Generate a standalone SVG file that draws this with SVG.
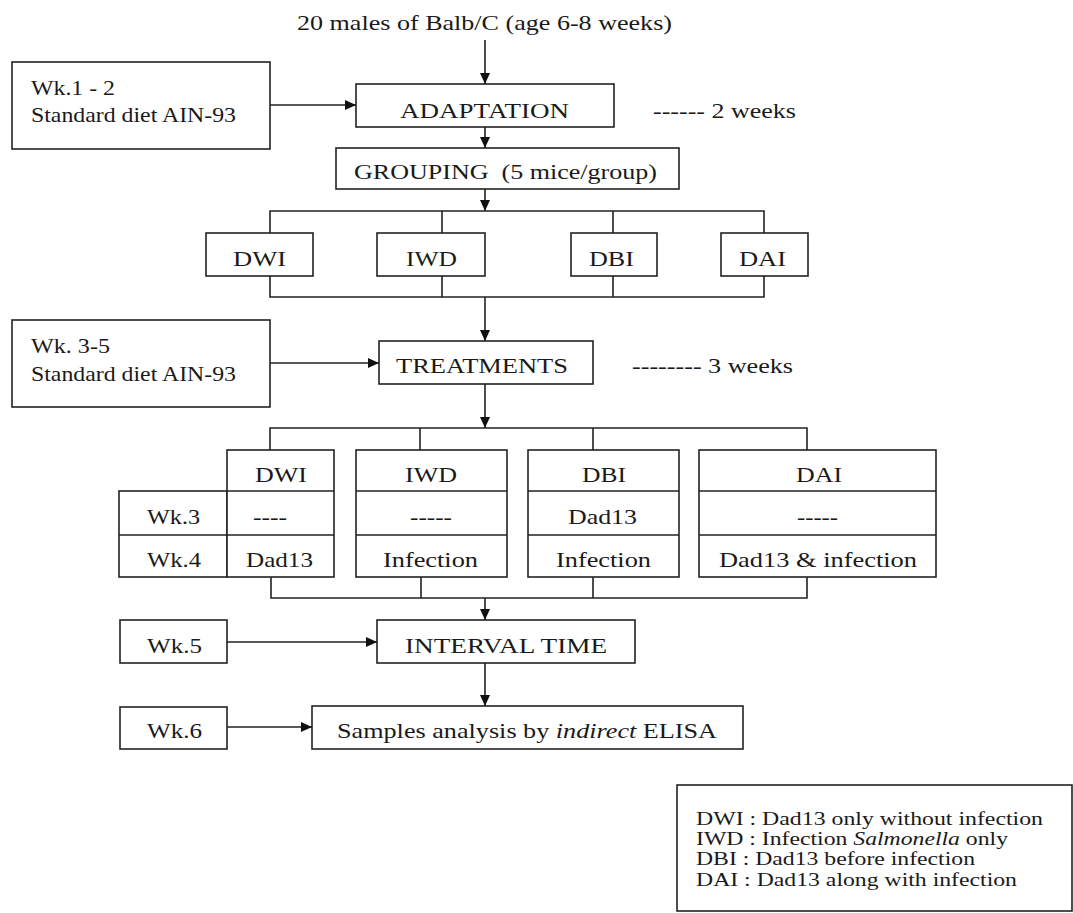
<svg xmlns="http://www.w3.org/2000/svg" width="1073" height="913" viewBox="0 0 1073 913">
<defs>
<style>
.b{fill:#fff;stroke:#222;stroke-width:1.6}
.l{fill:none;stroke:#222;stroke-width:1.6}
.t{font-family:"Liberation Serif","Times New Roman",serif;font-size:21px;fill:#1a1a1a;white-space:pre}
.s{font-family:"Liberation Serif","Times New Roman",serif;font-size:19px;fill:#1a1a1a;white-space:pre}
</style>
<marker id="ah" markerUnits="userSpaceOnUse" markerWidth="12" markerHeight="10" refX="11" refY="5" orient="auto">
<path d="M0,0 L11,5 L0,10 Z" fill="#111"/>
</marker>
</defs>
<rect width="1073" height="913" fill="#fff"/>

<g id="title"><text class="t" x="297" y="30" textLength="375" lengthAdjust="spacingAndGlyphs">20 males of Balb/C (age 6-8 weeks)</text></g>

<g id="wk12"><rect class="b" x="12" y="62" width="258" height="87"/>
<text class="t" x="31" y="95" textLength="84" lengthAdjust="spacingAndGlyphs">Wk.1 - 2</text>
<text class="t" x="31" y="122" textLength="205" lengthAdjust="spacingAndGlyphs">Standard diet AIN-93</text></g>

<g id="adaptation"><rect class="b" x="356" y="84" width="258" height="43"/>
<text class="t" x="400" y="118" textLength="169" lengthAdjust="spacingAndGlyphs">ADAPTATION</text></g>
<g id="weeks2"><text class="t" x="653" y="118" textLength="143" lengthAdjust="spacingAndGlyphs">------ 2 weeks</text></g>

<g id="grouping"><rect class="b" x="336" y="148" width="343" height="41"/>
<text class="t" x="354" y="179" textLength="303" lengthAdjust="spacingAndGlyphs">GROUPING  (5 mice/group)</text></g>

<g id="g-dwi"><rect class="b" x="206" y="233" width="107" height="43"/><text class="t" x="233" y="266" textLength="53" lengthAdjust="spacingAndGlyphs">DWI</text></g>
<g id="g-iwd"><rect class="b" x="377" y="233" width="108" height="43"/><text class="t" x="406" y="266" textLength="51" lengthAdjust="spacingAndGlyphs">IWD</text></g>
<g id="g-dbi"><rect class="b" x="571" y="233" width="86" height="43"/><text class="t" x="589" y="266" textLength="45" lengthAdjust="spacingAndGlyphs">DBI</text></g>
<g id="g-dai"><rect class="b" x="721" y="233" width="87" height="43"/><text class="t" x="739" y="266" textLength="47" lengthAdjust="spacingAndGlyphs">DAI</text></g>

<g id="wk35"><rect class="b" x="12" y="320" width="258" height="87"/>
<text class="t" x="31" y="353" textLength="79" lengthAdjust="spacingAndGlyphs">Wk. 3-5</text>
<text class="t" x="31" y="381" textLength="205" lengthAdjust="spacingAndGlyphs">Standard diet AIN-93</text></g>

<g id="treatments"><rect class="b" x="379" y="341" width="214" height="43"/>
<text class="t" x="396" y="373" textLength="172" lengthAdjust="spacingAndGlyphs">TREATMENTS</text></g>
<g id="weeks3"><text class="t" x="632" y="373" textLength="161" lengthAdjust="spacingAndGlyphs">-------- 3 weeks</text></g>

<g id="table">
<g id="t-rows"><rect class="b" x="119" y="491" width="108" height="86"/><line class="l" x1="119" y1="535" x2="227" y2="535"/>
<text class="t" x="147" y="524" textLength="53" lengthAdjust="spacingAndGlyphs">Wk.3</text>
<text class="t" x="147" y="567" textLength="54" lengthAdjust="spacingAndGlyphs">Wk.4</text></g>
<g id="t-dwi"><rect class="b" x="227" y="450" width="107" height="127"/><line class="l" x1="227" y1="491" x2="334" y2="491"/><line class="l" x1="227" y1="535" x2="334" y2="535"/>
<text class="t" x="255" y="482" textLength="52" lengthAdjust="spacingAndGlyphs">DWI</text>
<text class="t" x="253" y="524" textLength="34" lengthAdjust="spacingAndGlyphs">----</text>
<text class="t" x="246" y="567" textLength="67" lengthAdjust="spacingAndGlyphs">Dad13</text></g>
<g id="t-iwd"><rect class="b" x="356" y="450" width="151" height="127"/><line class="l" x1="356" y1="491" x2="507" y2="491"/><line class="l" x1="356" y1="535" x2="507" y2="535"/>
<text class="t" x="405" y="482" textLength="52" lengthAdjust="spacingAndGlyphs">IWD</text>
<text class="t" x="410" y="524" textLength="42" lengthAdjust="spacingAndGlyphs">-----</text>
<text class="t" x="383" y="567" textLength="95" lengthAdjust="spacingAndGlyphs">Infection</text></g>
<g id="t-dbi"><rect class="b" x="528" y="450" width="151" height="127"/><line class="l" x1="528" y1="491" x2="679" y2="491"/><line class="l" x1="528" y1="535" x2="679" y2="535"/>
<text class="t" x="582" y="482" textLength="44" lengthAdjust="spacingAndGlyphs">DBI</text>
<text class="t" x="568" y="524" textLength="69" lengthAdjust="spacingAndGlyphs">Dad13</text>
<text class="t" x="556" y="567" textLength="95" lengthAdjust="spacingAndGlyphs">Infection</text></g>
<g id="t-dai"><rect class="b" x="699" y="450" width="237" height="127"/><line class="l" x1="699" y1="491" x2="936" y2="491"/><line class="l" x1="699" y1="535" x2="936" y2="535"/>
<text class="t" x="796" y="482" textLength="46" lengthAdjust="spacingAndGlyphs">DAI</text>
<text class="t" x="797" y="524" textLength="41" lengthAdjust="spacingAndGlyphs">-----</text>
<text class="t" x="719" y="567" textLength="198" lengthAdjust="spacingAndGlyphs">Dad13 &amp; infection</text></g>
</g>

<g id="wk5"><rect class="b" x="120" y="620" width="107" height="43"/><text class="t" x="147" y="653" textLength="55" lengthAdjust="spacingAndGlyphs">Wk.5</text></g>
<g id="interval"><rect class="b" x="377" y="620" width="258" height="43"/><text class="t" x="405" y="653" textLength="202" lengthAdjust="spacingAndGlyphs">INTERVAL TIME</text></g>
<g id="wk6"><rect class="b" x="120" y="707" width="107" height="42"/><text class="t" x="147" y="738" textLength="55" lengthAdjust="spacingAndGlyphs">Wk.6</text></g>
<g id="samples"><rect class="b" x="312" y="706" width="431" height="43"/><text class="t" x="337" y="738" textLength="380" lengthAdjust="spacingAndGlyphs">Samples analysis by <tspan font-style="italic">indirect</tspan> ELISA</text></g>

<g id="legend"><rect class="b" x="677" y="785" width="395" height="126"/>
<text class="s" x="696" y="825" textLength="347" lengthAdjust="spacingAndGlyphs">DWI : Dad13 only without infection</text>
<text class="s" x="696" y="845" textLength="312" lengthAdjust="spacingAndGlyphs">IWD : Infection <tspan font-style="italic">Salmonella</tspan> only</text>
<text class="s" x="696" y="865" textLength="279" lengthAdjust="spacingAndGlyphs">DBI : Dad13 before infection</text>
<text class="s" x="696" y="886" textLength="321" lengthAdjust="spacingAndGlyphs">DAI : Dad13 along with infection</text></g>

<g id="connectors">
<line class="l" x1="485" y1="40" x2="485" y2="84" marker-end="url(#ah)"/>
<line class="l" x1="270" y1="105" x2="356" y2="105" marker-end="url(#ah)"/>
<line class="l" x1="485" y1="127" x2="485" y2="148" marker-end="url(#ah)"/>
<line class="l" x1="485" y1="189" x2="485" y2="211" marker-end="url(#ah)"/>
<path class="l" d="M270,233 V211 H764 V233 M442,211 V233 M613,211 V233"/>
<path class="l" d="M270,276 V297 H764 V276 M442,297 V276 M613,297 V276"/>
<line class="l" x1="485" y1="297" x2="485" y2="341" marker-end="url(#ah)"/>
<line class="l" x1="270" y1="363" x2="379" y2="363" marker-end="url(#ah)"/>
<line class="l" x1="485" y1="384" x2="485" y2="428" marker-end="url(#ah)"/>
<path class="l" d="M270,450 V428 H807 V450 M420,428 V450 M593,428 V450"/>
<path class="l" d="M271,577 V598 H807 V577 M421,598 V577 M593,598 V577"/>
<line class="l" x1="485" y1="598" x2="485" y2="620" marker-end="url(#ah)"/>
<line class="l" x1="227" y1="642" x2="377" y2="642" marker-end="url(#ah)"/>
<line class="l" x1="485" y1="663" x2="485" y2="706" marker-end="url(#ah)"/>
<line class="l" x1="227" y1="727" x2="312" y2="727" marker-end="url(#ah)"/>
</g>
</svg>
